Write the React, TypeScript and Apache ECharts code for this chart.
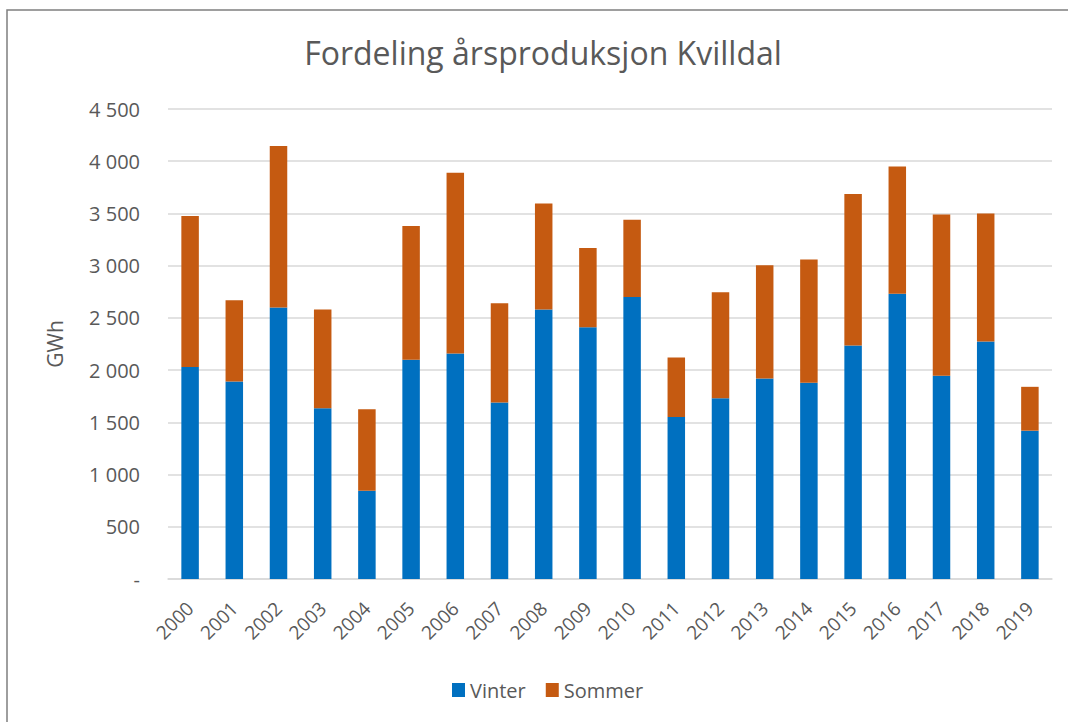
import React, { useEffect, useRef } from "react";
import * as echarts from "echarts";

const years = ["2000","2001","2002","2003","2004","2005","2006","2007","2008","2009","2010","2011","2012","2013","2014","2015","2016","2017","2018","2019"];
const vinter = [2030,1890,2600,1635,845,2100,2160,1690,2580,2410,2700,1550,1730,1920,1880,2235,2730,1945,2275,1420];
const sommer = [1445,780,1545,945,780,1280,1730,950,1015,760,740,570,1015,1085,1180,1450,1220,1545,1225,420];
const yTicks = { min: 0, max: 4500, interval: 500 };

const FONT = "'Open Sans', 'Noto Sans', sans-serif";

function fmt(v: number): string {
  if (v === 0) return "-";
  const s = String(Math.round(v));
  return s.replace(/\B(?=(\d{3})+(?!\d))/g, " ");
}

export default function App() {
  const ref = useRef<HTMLDivElement>(null);
  useEffect(() => {
    document.body.style.margin = "0";
    document.body.style.overflow = "hidden";
    if (!ref.current) return;
    const chart = echarts.init(ref.current, undefined, { renderer: "svg" });
    chart.setOption({
      animation: false,
      backgroundColor: "#ffffff",
      color: ["#0070C0", "#C55A11"],
      graphic: [
        {
          type: "rect",
          shape: { x: 7, y: 10, width: 1100, height: 800 },
          style: { fill: "none", stroke: "#7f7f7f", lineWidth: 1.5 },
          silent: true,
        },
      ],
      title: {
        text: "Fordeling årsproduksjon Kvilldal",
        left: 538,
        textAlign: "center",
        top: 31,
        textStyle: { fontFamily: FONT, fontSize: 32, fontWeight: "normal", color: "#595959" },
      },
      legend: {
        left: 447,
        top: 675,
        itemWidth: 13,
        itemHeight: 14,
        itemGap: 20,
        icon: "rect",
        textStyle: { fontFamily: FONT, fontSize: 20, color: "#595959", padding: [0, 0, 0, 0] },
        data: ["Vinter", "Sommer"],
      },
      grid: { left: 168, right: 16, top: 109, bottom: 143, containLabel: false },
      xAxis: {
        type: "category",
        data: years,
        axisLine: { lineStyle: { color: "#d9d9d9", width: 1.5 } },
        axisTick: { show: false },
        axisLabel: { rotate: 45, fontFamily: FONT, fontSize: 19, color: "#595959", margin: 26, interval: 0 },
      },
      yAxis: {
        type: "value",
        min: yTicks.min,
        max: yTicks.max,
        interval: yTicks.interval,
        name: "GWh",
        nameLocation: "middle",
        nameGap: 103,
        nameRotate: 90,
        nameTextStyle: { fontFamily: FONT, fontSize: 21, color: "#595959" },
        axisLine: { show: false },
        axisTick: { show: false },
        splitLine: { lineStyle: { color: "#d9d9d9", width: 1.5 } },
        axisLabel: { formatter: fmt, fontFamily: FONT, fontSize: 20, color: "#595959", margin: 28 },
      },
      series: [
        { name: "Vinter", type: "bar", stack: "t", data: vinter, barWidth: 17.5 },
        { name: "Sommer", type: "bar", stack: "t", data: sommer, barWidth: 17.5 },
      ],
    });
    return () => chart.dispose();
  }, []);
  return <div ref={ref} style={{ width: 1068, height: 722 }} />;
}
